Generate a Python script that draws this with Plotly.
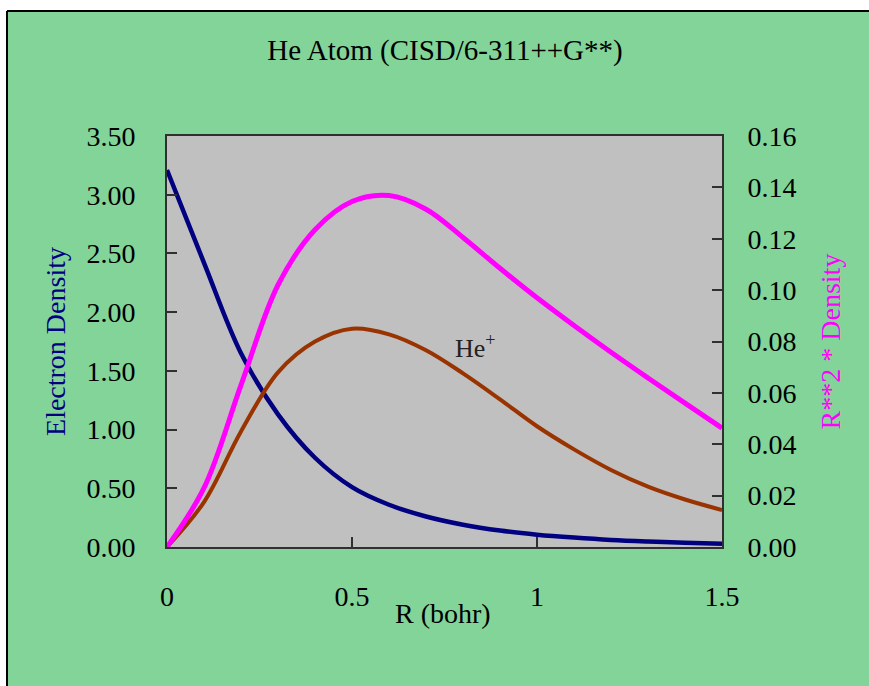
import plotly.graph_objects as go

# Data
r_bohr = [0.0, 0.1, 0.2, 0.3, 0.4, 0.5, 0.6, 0.7, 0.8, 0.9, 1.0, 1.1, 1.2, 1.3, 1.4, 1.5]
electron_density = [3.21, 2.42, 1.65, 1.13, 0.76, 0.51, 0.36, 0.26, 0.19, 0.14, 0.105, 0.08, 0.06, 0.047, 0.037, 0.028]
r2_density_he = [0.0, 0.023, 0.063, 0.102, 0.1235, 0.1345, 0.1368, 0.1315, 0.1205, 0.1085, 0.097, 0.0862, 0.0758, 0.0658, 0.056, 0.0463]
r2_density_hep = [0.0, 0.0175, 0.045, 0.068, 0.080, 0.085, 0.0828, 0.0766, 0.0676, 0.0575, 0.047, 0.038, 0.030, 0.0235, 0.0185, 0.0144]

x_ticks = [0, 0.5, 1, 1.5]
x_tick_text = ["0", "0.5", "1", "1.5"]
y_left_ticks = [0, 0.5, 1.0, 1.5, 2.0, 2.5, 3.0, 3.5]
y_right_ticks = [0, 0.02, 0.04, 0.06, 0.08, 0.10, 0.12, 0.14, 0.16]

FONT = "Liberation Serif, Times New Roman, serif"
GREEN = "rgb(131,212,152)"
GRAY = "rgb(192,192,192)"
AXIS = "#303030"

fig = go.Figure()
fig.add_trace(go.Scatter(x=r_bohr, y=electron_density, mode="lines",
                         line=dict(color="#000080", width=4.5, shape="spline", smoothing=1),
                         name="Electron Density", yaxis="y"))
fig.add_trace(go.Scatter(x=r_bohr, y=r2_density_hep, mode="lines",
                         line=dict(color="#993300", width=4, shape="spline", smoothing=1),
                         name="He+", yaxis="y2"))
fig.add_trace(go.Scatter(x=r_bohr, y=r2_density_he, mode="lines",
                         line=dict(color="#FF00FF", width=5, shape="spline", smoothing=1),
                         name="R**2 * Density", yaxis="y2"))

# plot area geometry: x 167..722, y 136..547 in 869x686
W, H = 869, 686
L, R, T, B = 167, 722, 136, 547
pw, ph = R - L, B - T

def px(xp):
    return (xp - L) / pw

def py(yp):
    return (B - yp) / ph

shapes = [
    # white strips outside the chart border (top and left)
    dict(type="rect", xref="paper", yref="paper", x0=px(-10), x1=px(W + 10),
         y0=py(11), y1=py(-10), fillcolor="white", line=dict(width=0), layer="below"),
    dict(type="rect", xref="paper", yref="paper", x0=px(-10), x1=px(7),
         y0=py(H + 10), y1=py(-10), fillcolor="white", line=dict(width=0), layer="below"),
    # border lines
    dict(type="line", xref="paper", yref="paper", x0=px(7), x1=px(W + 10),
         y0=py(11), y1=py(11), line=dict(color="black", width=2)),
    dict(type="line", xref="paper", yref="paper", x0=px(7), x1=px(7),
         y0=py(11), y1=py(H + 10), line=dict(color="black", width=2)),
]

fig.update_layout(
    width=W, height=H,
    margin=dict(l=L, r=W - R, t=T, b=H - B, pad=0),
    paper_bgcolor=GREEN, plot_bgcolor=GRAY,
    showlegend=False,
    font=dict(family=FONT, size=28, color="black"),
    title=dict(text="He Atom (CISD/6-311++G**)", x=(262 + 628) / 2 / W, xanchor="center",
               y=1 - 50 / H, yanchor="middle", font=dict(family=FONT, size=29, color="black")),
    xaxis=dict(range=[0, 1.5], tickvals=x_ticks, ticktext=x_tick_text,
               ticks="inside", ticklen=10, tickwidth=1.5, tickcolor=AXIS,
               showline=True, linecolor=AXIS, linewidth=2, mirror=True,
               showgrid=False, zeroline=False, ticklabelstandoff=23,
               tickfont=dict(family=FONT, size=28, color="black")),
    yaxis=dict(range=[0, 3.5], tickvals=y_left_ticks, tickformat=".2f",
               ticks="inside", ticklen=10, tickwidth=1.5, tickcolor=AXIS,
               showline=True, linecolor=AXIS, linewidth=2,
               showgrid=False, zeroline=False, ticklabelstandoff=24,
               tickfont=dict(family=FONT, size=28, color="black"),
               title=dict(text="Electron Density", standoff=13,
                          font=dict(family=FONT, size=28, color="#000080"))),
    yaxis2=dict(range=[0, 0.16], tickvals=y_right_ticks, tickformat=".2f",
                overlaying="y", side="right",
                ticks="inside", ticklen=10, tickwidth=1.5, tickcolor=AXIS,
                showline=True, linecolor=AXIS, linewidth=2,
                showgrid=False, zeroline=False, ticklabelstandoff=18,
                tickfont=dict(family=FONT, size=28, color="black"),
                title=dict(text="R**2 * Density", standoff=25,
                           font=dict(family=FONT, size=28, color="#FF00FF"))),
    shapes=shapes,
    annotations=[
        dict(text="He<sup>+</sup>", x=0.835, y=0.078, xref="x", yref="y2",
             xanchor="center", yanchor="middle", showarrow=False,
             font=dict(family=FONT, size=26, color="#222222")),
        dict(text="R (bohr)", x=px(443), y=py(613), xref="paper", yref="paper",
             xanchor="center", yanchor="middle", showarrow=False,
             font=dict(family=FONT, size=28, color="black")),
    ],
)

fig.write_html("out.html")
